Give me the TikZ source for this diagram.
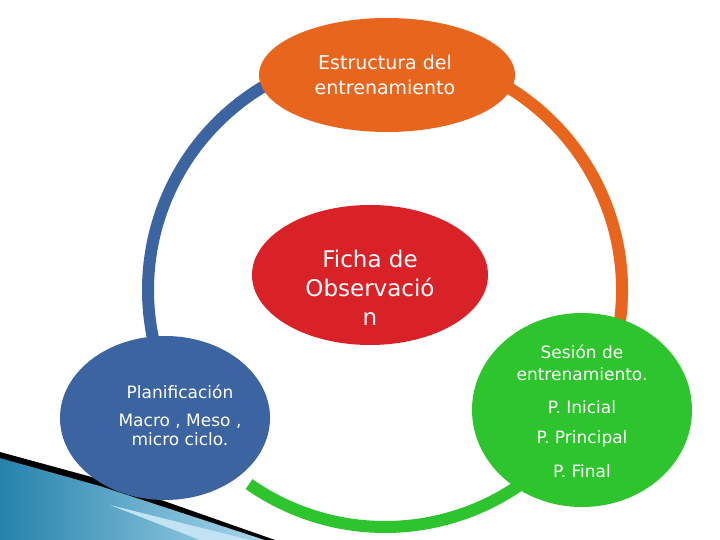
\documentclass[tikz,border=0pt]{standalone}
\usepackage{fontspec}
\setmainfont{DejaVu Sans}
\definecolor{cor}{HTML}{E8651E}
\definecolor{cred}{HTML}{D92128}
\definecolor{cblue}{HTML}{3B64A0}
\definecolor{cgreen}{HTML}{2DC42D}
\definecolor{ccyan}{HTML}{2FA3D6}
\begin{document}
\begin{tikzpicture}[x=1pt,y=1pt,
  ring/.style={line width=12pt},
  ell/.style={ellipse, inner sep=0pt},
  txt/.style={text=white, align=center, font=\fontsize{17}{21}\selectfont}]
\useasboundingbox (0,0) rectangle (720,-540);
\fill[white] (0,0) rectangle (720,-540);
% decoration bottom-left
\shade[left color=ccyan!80!black, right color=ccyan!40] (0,-455) -- (120,-490) -- (275,-540) -- (0,-540) -- cycle;
\fill[black] (0,-452) -- (110,-482) -- (275,-540) -- (265,-540) -- (100,-486) -- (0,-458) -- cycle;
\fill[ccyan!30] (110,-505) -- (250,-540) -- (200,-540) -- cycle;
% ring arcs
\draw[ring,cblue] (385,-290) ++(100:237) arc (100:205:237);
\draw[ring,cor] (385,-290) ++(75:237) arc (75:-15:237);
\draw[ring,cgreen] (385,-290) ++(-55:237) arc (-55:-125:237);
% ellipses
\fill[cor] (387,-75) ellipse (128 and 57);
\fill[cred] (370,-275) ellipse (118 and 70);
\fill[cblue] (165,-418) ellipse (105 and 82);
\fill[cgreen] (582,-410) ellipse (110 and 97);
\coordinate (c) at (385,-290);
\node[txt, font=\fontsize{19}{25}\selectfont] (t1) at (385,-75) {Estructura del\\entrenamiento};
\node[txt, font=\fontsize{23}{29}\selectfont] (t2) at (370,-288) {Ficha de\\Observació\\n};
\node[txt] (t3a) at (180,-392) {Planificación};
\node[txt, font=\fontsize{17}{19}\selectfont] (t3b) at (180,-430) {Macro , Meso ,\\micro ciclo.};
\node[txt, font=\fontsize{17}{22}\selectfont] (t4a) at (582,-363) {Sesión de\\entrenamiento.};
\node[txt] (t4b) at (582,-407) {P. Inicial};
\node[txt] (t4c) at (582,-439) {P. Principal};
\node[txt] (t4d) at (582,-471) {P. Final};
\end{tikzpicture}
\end{document}
